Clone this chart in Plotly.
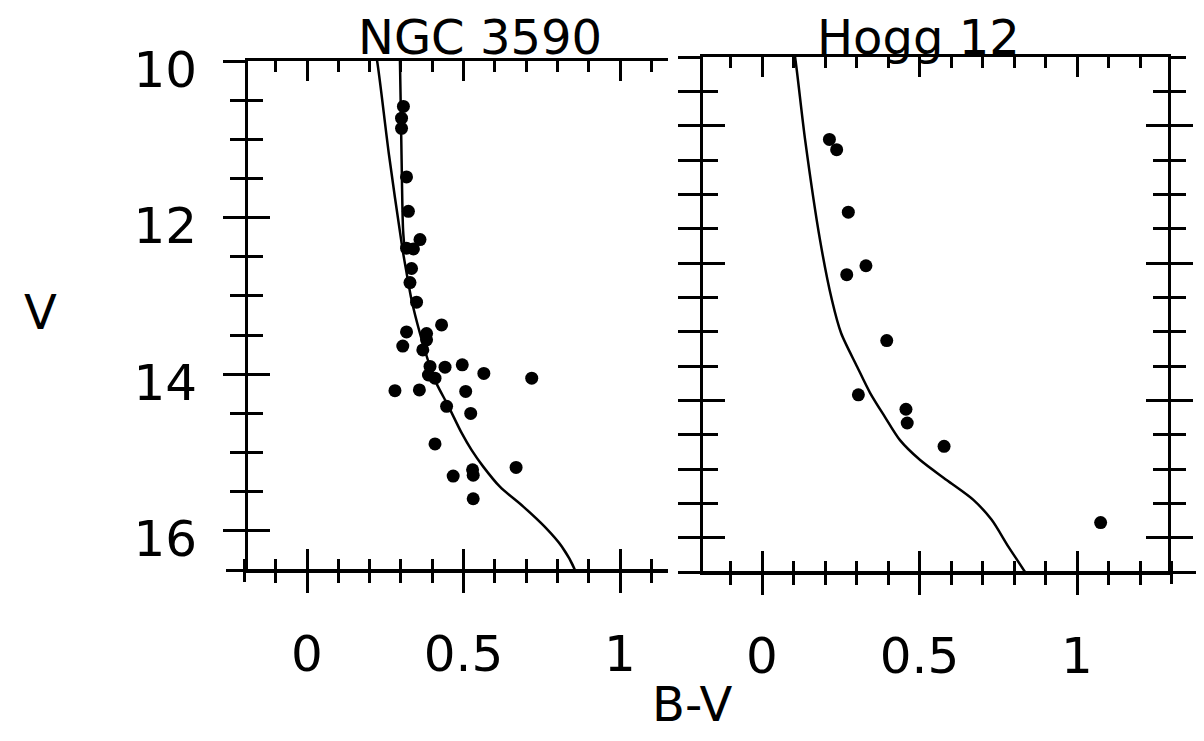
import plotly.graph_objects as go

W, H = 1204, 741
OFF = 8  # default page margin of the browser body
FW, FH = W - 2 * OFF, H - 2 * OFF

# ---------------- data ----------------
# NGC 3590 stars (B-V, V)
ngc_bv = [0.308, 0.302, 0.302, 0.318, 0.324, 0.361, 0.318, 0.340, 0.334, 0.329,
          0.350, 0.430, 0.318, 0.382, 0.382, 0.306, 0.370, 0.393, 0.441, 0.496,
          0.565, 0.718, 0.388, 0.409, 0.281, 0.359, 0.507, 0.446, 0.523, 0.409,
          0.668, 0.529, 0.531, 0.467, 0.531]
ngc_v = [10.58, 10.73, 10.86, 11.48, 11.92, 12.28, 12.39, 12.40, 12.65, 12.83,
         13.08, 13.37, 13.46, 13.48, 13.56, 13.64, 13.69, 13.90, 13.91, 13.88,
         13.99, 14.05, 14.01, 14.05, 14.21, 14.20, 14.22, 14.41, 14.50, 14.89,
         15.19, 15.22, 15.29, 15.30, 15.59]

# NGC 3590 isochrone (main branch and upper branch)
ngc_iso_bv = [0.218, 0.224, 0.262, 0.305, 0.318, 0.334, 0.361, 0.393, 0.414, 0.452,
              0.494, 0.526, 0.563, 0.617, 0.691, 0.760, 0.814, 0.856, 0.870]
ngc_iso_v = [9.90, 10.00, 11.20, 12.40, 12.70, 13.05, 13.48, 13.90, 14.12, 14.41,
             14.75, 14.97, 15.18, 15.44, 15.69, 15.95, 16.20, 16.50, 16.70]
ngc_iso2_bv = [0.296, 0.297, 0.302, 0.307, 0.313]
ngc_iso2_v = [9.90, 10.00, 11.20, 12.16, 12.45]

# Hogg 12 stars (B-V, V)
hogg_bv = [0.214, 0.237, 0.274, 0.330, 0.269, 0.396, 0.306, 0.457, 0.461, 0.578, 1.075]
hogg_v = [10.20, 10.35, 11.26, 12.04, 12.17, 13.13, 13.92, 14.13, 14.33, 14.67, 15.78]

# Hogg 12 isochrone
hogg_iso_bv = [0.095, 0.105, 0.137, 0.184, 0.222, 0.251, 0.302, 0.343, 0.390, 0.438,
               0.502, 0.586, 0.671, 0.729, 0.782, 0.835, 0.867]
hogg_iso_v = [8.75, 9.00, 10.21, 11.66, 12.54, 13.02, 13.51, 13.89, 14.24, 14.58,
              14.87, 15.16, 15.45, 15.74, 16.13, 16.50, 16.76]

titles = ["NGC 3590", "Hogg 12"]
x_tickvals = [0, 0.5, 1]
x_ticktext = ["0", "0.5", "1"]
y_tickvals = [10, 12, 14, 16]
y_ticktext = ["10", "12", "14", "16"]
x_label = "B-V"
y_label = "V"

# ---------------- layout helpers ----------------
FONT = "DejaVu Sans"
def px(x):
    return min(max((x - OFF) / FW, 0), 1)
def py(y):
    return min(max(1 - (y - OFF) / FH, 0), 1)

left_dom = [px(248), px(668)]
right_dom = [px(703), px(1168)]
left_ydom = [py(570), py(61)]
right_ydom = [py(572), py(57)]
left_xr = [(248 - 307) / 313, (668 - 307) / 313]
right_xr = [(703 - 762) / 315, (1168 - 762) / 315]
left_yr = [16.5, 10]
right_yr = [16.5, 9]
# bottom axis lines run a little past the frames
left_ext_dom = [px(226), px(668)]
left_ext_xr = [(226 - 307) / 313, (668 - 307) / 313]
right_ext_dom = [px(703), px(1196)]
right_ext_xr = [(703 - 762) / 315, (1196 - 762) / 315]

fig = go.Figure()

line_style = dict(color="black", width=2.5, shape="spline", smoothing=0.8)
mk = dict(color="black", size=13, line=dict(width=0))

fig.add_trace(go.Scatter(x=ngc_iso_bv, y=ngc_iso_v, mode="lines", line=line_style,
                         xaxis="x", yaxis="y", hoverinfo="skip"))
fig.add_trace(go.Scatter(x=ngc_iso2_bv, y=ngc_iso2_v, mode="lines", line=line_style,
                         xaxis="x", yaxis="y", hoverinfo="skip"))
fig.add_trace(go.Scatter(x=ngc_bv, y=ngc_v, mode="markers", marker=mk,
                         xaxis="x", yaxis="y"))
fig.add_trace(go.Scatter(x=hogg_iso_bv, y=hogg_iso_v, mode="lines", line=line_style,
                         xaxis="x2", yaxis="y2", hoverinfo="skip"))
fig.add_trace(go.Scatter(x=hogg_bv, y=hogg_v, mode="markers", marker=mk,
                         xaxis="x2", yaxis="y2"))
# invisible traces that activate the helper axes (inside halves of crossing ticks,
# and the extended bottom axis lines)
for xa, ya in [("x3", "y3"), ("x4", "y4"), ("x5", "y"), ("x7", "y"),
               ("x6", "y2"), ("x8", "y2")]:
    fig.add_trace(go.Scatter(x=[None], y=[None], xaxis=xa, yaxis=ya, hoverinfo="skip"))

tickfont = dict(family=FONT, size=50, color="black")
TW = 2.5
common = dict(showgrid=False, zeroline=False, linecolor="black", linewidth=3,
              tickcolor="black", tickwidth=TW, automargin=False)

def minor(kind, t0, dt, ln):
    return dict(tick0=t0, dtick=dt, ticks=kind, ticklen=ln, tickwidth=TW,
                tickcolor="black", showgrid=False)

def xmain(dom, rng, anchor):
    return dict(domain=dom, range=rng, anchor=anchor, showline=True, mirror=True,
                ticks="outside", ticklen=20, tick0=0, dtick=0.5,
                tickvals=x_tickvals, ticktext=x_ticktext, tickfont=tickfont,
                ticklabelstandoff=18, minor=minor("outside", 0, 0.1, 10), **common)

def xover(rng, over, anchor):
    return dict(overlaying=over, range=rng, anchor=anchor, showline=False,
                mirror="allticks", ticks="inside", ticklen=20, tick0=0, dtick=0.5,
                showticklabels=False, minor=minor("inside", 0, 0.1, 11), **common)

def xext(dom, rng, pos, kind, over=None):
    d = dict(domain=dom, range=rng, anchor="free", position=pos, showline=True,
             ticks=kind, ticklen=20, tick0=0, dtick=0.5, showticklabels=False,
             minor=minor(kind, 0, 0.1, 10), **common)
    if over:
        d["overlaying"] = over
    return d

def ymain(dom, rng, anchor, labels, mirror):
    return dict(domain=dom, range=rng, anchor=anchor, showline=True, mirror=mirror,
                ticks="outside", ticklen=22, tick0=10, dtick=2,
                tickvals=y_tickvals, ticktext=y_ticktext, tickfont=tickfont,
                showticklabels=labels, ticklabelstandoff=16, ticklabelshift=-8,
                minor=minor("outside", 10, 0.5, 15), **common)

def yover(rng, over, anchor, mirror):
    return dict(overlaying=over, range=rng, anchor=anchor, showline=False,
                mirror=mirror, ticks="inside", ticklen=22, tick0=10, dtick=2,
                tickvals=y_tickvals, showticklabels=False,
                minor=minor("inside", 10, 0.5, 15), **common)

fig.update_layout(
    width=FW, height=FH, margin=dict(l=0, r=0, t=0, b=0, autoexpand=False),
    plot_bgcolor="rgba(0,0,0,0)", paper_bgcolor="white", showlegend=False,
    xaxis=xmain(left_dom, left_xr, "y"),
    yaxis=ymain(left_ydom, left_yr, "x", True, False),
    xaxis2=xmain(right_dom, right_xr, "y2"),
    yaxis2=ymain(right_ydom, right_yr, "x2", False, "allticks"),
    xaxis3=xover(left_xr, "x", "y3"),
    yaxis3=yover(left_yr, "y", "x3", False),
    xaxis4=xover(right_xr, "x2", "y4"),
    yaxis4=yover(right_yr, "y2", "x4", "allticks"),
    xaxis5=xext(left_ext_dom, left_ext_xr, py(570), "outside"),
    xaxis7=xext(left_ext_dom, left_ext_xr, py(570), "inside", "x5"),
    xaxis6=xext(right_ext_dom, right_ext_xr, py(572), "outside"),
    xaxis8=xext(right_ext_dom, right_ext_xr, py(572), "inside", "x6"),
)

ann_font = dict(family=FONT, size=48, color="black")
fig.add_annotation(text=titles[0], x=px(480), y=1, xref="paper", yref="paper",
                   xanchor="center", yanchor="top", showarrow=False, borderpad=0,
                   font=dict(family=FONT, size=48, color="black"))
fig.add_annotation(text=titles[1], x=px(918), y=1, xref="paper", yref="paper",
                   xanchor="center", yanchor="top", showarrow=False, borderpad=0,
                   font=dict(family=FONT, size=48, color="black"))
fig.add_annotation(text=y_label, x=px(40), y=py(312), xref="paper", yref="paper",
                   xanchor="center", yanchor="middle", showarrow=False, font=ann_font)
fig.add_annotation(text=x_label, x=px(692), y=0, xref="paper", yref="paper",
                   xanchor="center", yanchor="bottom", showarrow=False, borderpad=0,
                   font=ann_font)

fig.write_html("out.html")
